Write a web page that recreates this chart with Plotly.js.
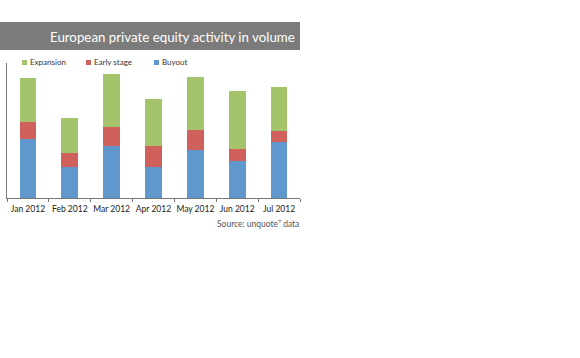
<!DOCTYPE html>
<html>
<head>
<meta charset="utf-8">
<script src="https://cdn.plot.ly/plotly-3.0.1.min.js"></script>
<style>html,body{margin:0;padding:0;background:#fff;}#chart{width:580px;height:358px;}</style>
</head>
<body>
<div id="chart"></div>
<script>
// ---- data ----
var months = ["Jan 2012", "Feb 2012", "Mar 2012", "Apr 2012", "May 2012", "Jun 2012", "Jul 2012"];
var buyout = [59, 31, 52, 31, 48, 37, 56];
var earlyStage = [17, 14, 19, 21, 20, 12, 11];
var expansion = [44, 35, 53, 47, 53, 58, 44];
var seriesNames = ["Expansion", "Early stage", "Buyout"];
var titleText = "European private equity activity in volume";
var sourceText = "Source: unquote\u201d data";

// ---- layout helpers (pixel -> paper) ----
var L = 7, R = 300, T = 63, B = 198, W = 580, H = 358;
function px(x) { return (x - L) / (R - L); }
function py(y) { return (B - y) / (B - T); }

var colors = {"Expansion": "#a3c46b", "Early stage": "#cf605b", "Buyout": "#6097cc"};
var font = "Lato, sans-serif";

var traces = [
  {type: "bar", name: seriesNames[2], x: months, y: buyout, marker: {color: colors["Buyout"]}},
  {type: "bar", name: seriesNames[1], x: months, y: earlyStage, marker: {color: colors["Early stage"]}},
  {type: "bar", name: seriesNames[0], x: months, y: expansion, marker: {color: colors["Expansion"]}}
];

var legendX = [22, 86, 154];
var shapes = [
  {type: "rect", xref: "paper", yref: "paper", x0: px(0), x1: px(300), y0: py(50), y1: py(22),
   fillcolor: "#7b7b7b", line: {width: 0}, layer: "below"}
];
var annotations = [
  {xref: "paper", yref: "paper", x: px(297), y: py(36.5), text: titleText, showarrow: false,
   xanchor: "right", yanchor: "middle", font: {family: font, size: 13.3, color: "#ffffff"}},
  {xref: "paper", yref: "paper", x: px(301), y: py(224), text: sourceText, showarrow: false,
   xanchor: "right", yanchor: "middle", font: {family: font, size: 8.5, color: "#555555"}}
];
seriesNames.forEach(function (n, i) {
  shapes.push({type: "rect", xref: "paper", yref: "paper", x0: px(legendX[i]), x1: px(legendX[i] + 5),
    y0: py(65), y1: py(60), fillcolor: colors[n], line: {width: 0}});
  annotations.push({xref: "paper", yref: "paper", x: px(legendX[i] + 6), y: py(62.5), text: n,
    showarrow: false, xanchor: "left", yanchor: "middle", font: {family: font, size: 8, color: "#333333"}});
});

var layout = {
  width: W, height: H, autosize: false,
  margin: {l: L, r: W - R, t: T, b: H - B, pad: 0},
  paper_bgcolor: "#ffffff", plot_bgcolor: "#ffffff",
  barmode: "stack", bargap: 0.6,
  showlegend: false,
  xaxis: {showline: true, linecolor: "#777777", linewidth: 1, ticks: "outside", tickson: "boundaries",
    ticklen: 3, tickcolor: "#777777", tickangle: 0, ticklabelstandoff: 3,
    tickfont: {family: font, size: 8.5, color: "#222222"},
    showgrid: false, zeroline: false, fixedrange: true},
  yaxis: {range: [0, 135], showline: true, linecolor: "#777777", linewidth: 1, showticklabels: false,
    ticks: "", showgrid: false, zeroline: false, fixedrange: true},
  shapes: shapes,
  annotations: annotations,
  font: {family: font}
};

Plotly.newPlot("chart", traces, layout, {displayModeBar: false, staticPlot: true});
</script>
</body>
</html>
